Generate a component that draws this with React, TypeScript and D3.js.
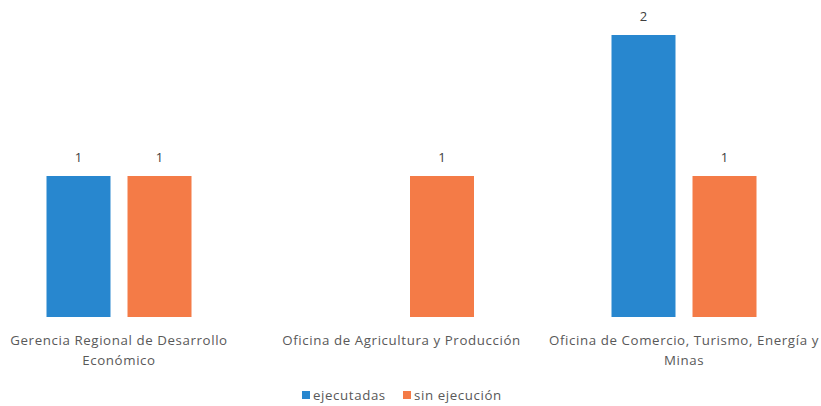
import React from "react";
import * as d3 from "d3";

const categories = [
  "Gerencia Regional de Desarrollo Económico",
  "Oficina de Agricultura y Producción",
  "Oficina de Comercio, Turismo, Energía y Minas",
];
const categoryLines = [
  ["Gerencia Regional de Desarrollo", "Económico"],
  ["Oficina de Agricultura y Producción"],
  ["Oficina de Comercio, Turismo, Energía y", "Minas"],
];
const seriesNames = ["ejecutadas", "sin ejecución"];
const ejecutadas = [1, 0, 2];
const sinEjecucion = [1, 1, 1];
const seriesColors = ["#2887CF", "#F47B47"];

const W = 821;
const H = 406;

export default function App() {
  const values = [ejecutadas, sinEjecucion];
  const x0 = d3.scaleBand<string>().domain(categories).range([-22.25, 825.25]).padding(0);
  const x1 = d3.scaleBand<string>().domain(seriesNames).range([-72.5, 72.5]).paddingInner(0.21).paddingOuter(0);
  const y = d3.scaleLinear().domain([0, 2]).range([317, 35]);
  const font = "'Open Sans', Lato, sans-serif";
  const fs = 13.3;
  const ls = 0.6;

  return (
    <svg width={W} height={H} style={{ position: "absolute", left: 0, top: 0, background: "#fff" }} fontFamily={font}>
      {categories.map((c, ci) => {
        const cx = (x0(c) as number) + x0.bandwidth() / 2;
        return (
          <g key={c}>
            {seriesNames.map((s, si) => {
              const v = values[si][ci];
              if (!v) return null;
              const bx = cx + (x1(s) as number);
              return (
                <g key={s}>
                  <rect x={bx} y={y(v)} width={x1.bandwidth()} height={y(0) - y(v)} fill={seriesColors[si]} />
                  <text x={bx + x1.bandwidth() / 2} y={y(v) - 14} textAnchor="middle" fontSize={13} fill="#404040">
                    {v}
                  </text>
                </g>
              );
            })}
            {categoryLines[ci].map((line, li) => (
              <text key={li} x={cx} y={345 + li * 20} textAnchor="middle" fontSize={fs} letterSpacing={ls} fill="#595959">
                {line}
              </text>
            ))}
          </g>
        );
      })}
      <g>
        <rect x={302} y={391} width={8} height={8} fill={seriesColors[0]} />
        <text x={313} y={400} fontSize={fs} letterSpacing={ls} fill="#595959">{seriesNames[0]}</text>
        <rect x={403} y={391} width={8} height={8} fill={seriesColors[1]} />
        <text x={414} y={400} fontSize={fs} letterSpacing={ls} fill="#595959">{seriesNames[1]}</text>
      </g>
    </svg>
  );
}
